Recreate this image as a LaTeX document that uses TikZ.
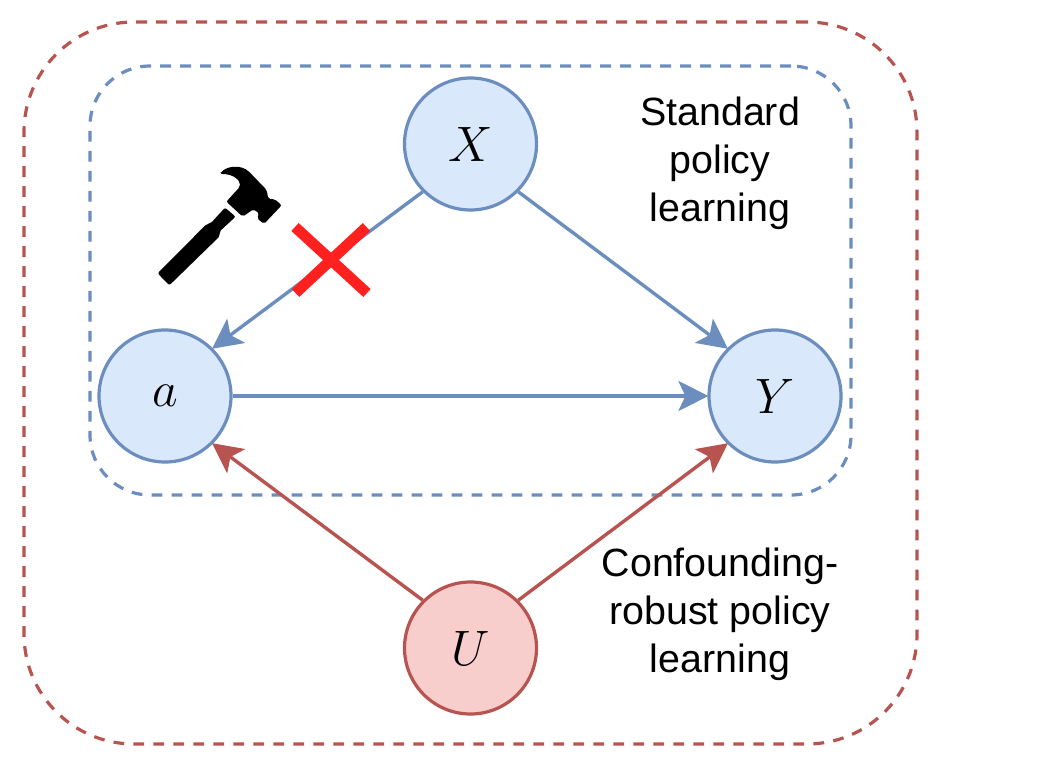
\documentclass[tikz,border=0pt]{standalone}
\usepackage{fontspec}
\setmainfont{Liberation Sans}
\usetikzlibrary{arrows.meta}
\definecolor{bluel}{HTML}{6C8EBF}
\definecolor{bluef}{HTML}{DAE8FC}
\definecolor{redl}{HTML}{B85450}
\definecolor{redf}{HTML}{F8CECC}
\tikzset{
  vblue/.style={circle,draw=bluel,fill=bluef,line width=1.6pt,minimum size=66pt,inner sep=0pt,font=\fontsize{24.5}{24.5}\selectfont},
  vred/.style={vblue,draw=redl,fill=redf},
  edgeblue/.style={draw=bluel,line width=1.7pt,-{Stealth[length=15pt,width=15pt,inset=3.5pt]},shorten >=-0.5pt},
  edgered/.style={edgeblue,draw=redl},
  groupbox/.style={rectangle,dashed,dash pattern=on 5.4pt off 4.6pt,line width=1.6pt,inner sep=0pt},
  caption/.style={align=center,font=\fontsize{19.7}{24}\selectfont,inner sep=0pt},
  crossbar/.style={draw={rgb,255:red,255;green,32;blue,32},line width=5.4pt}
}
\begin{document}
\begin{tikzpicture}[x=0.5pt,y=-0.5pt]
\useasboundingbox (0,0) rectangle (1052,770);
\node[groupbox,draw=redl,rounded corners=55pt,minimum width=446.5pt,minimum height=361pt] (outer) at (470.5,383) {};
\node[groupbox,draw=bluel,rounded corners=30pt,minimum width=380.5pt,minimum height=214.5pt] (inner) at (470.5,280.5) {};
\node[vblue] (X) at (470.5,144) {$X$};
\node[vblue] (a) at (165,396) {$a$};
\node[vblue] (Y) at (775,396) {$Y$};
\node[vred]  (U) at (470.5,648) {$U$};
\draw[edgeblue] (X.south west) -- (a.north east);
\draw[edgeblue] (X.south east) -- (Y.north west);
\draw[edgeblue] (a) -- (Y);
\draw[edgered] (U.north west) -- (a.south east);
\draw[edgered] (U.north east) -- (Y.south west);
\coordinate (c1) at (295,227);
\coordinate (c2) at (367,293);
\coordinate (c3) at (366.5,227);
\coordinate (c4) at (295.5,293);
\draw[crossbar] (c1) -- (c2);
\draw[crossbar] (c3) -- (c4);
\node[caption] (std) at (720,163) {Standard\\policy\\learning};
\node[caption] (conf) at (720,614) {Confounding-\\robust policy\\learning};
\begin{scope}[shift={(140,150)},x=0.5pt/3,y=-0.5pt/3]
\fill[black,rounded corners=1pt]
  (241,72) .. controls (255,50) and (302,40) .. (332,70)
  -- (380,120) -- (385,147) -- (405,148) -- (425,166) -- (372,222) -- (351,205)
  -- (358,190) -- (340,178) -- (308,200) -- (259,155) -- (300,110)
  .. controls (300,90) and (280,72) .. (241,72) -- cycle;
\fill[black,rounded corners=1pt]
  (255,173) -- (287,200) -- (238,245) -- (240,258) -- (88,406) -- (53,370)
  -- (200,222) -- (212,220) -- cycle;
\end{scope}
\end{tikzpicture}
\end{document}
